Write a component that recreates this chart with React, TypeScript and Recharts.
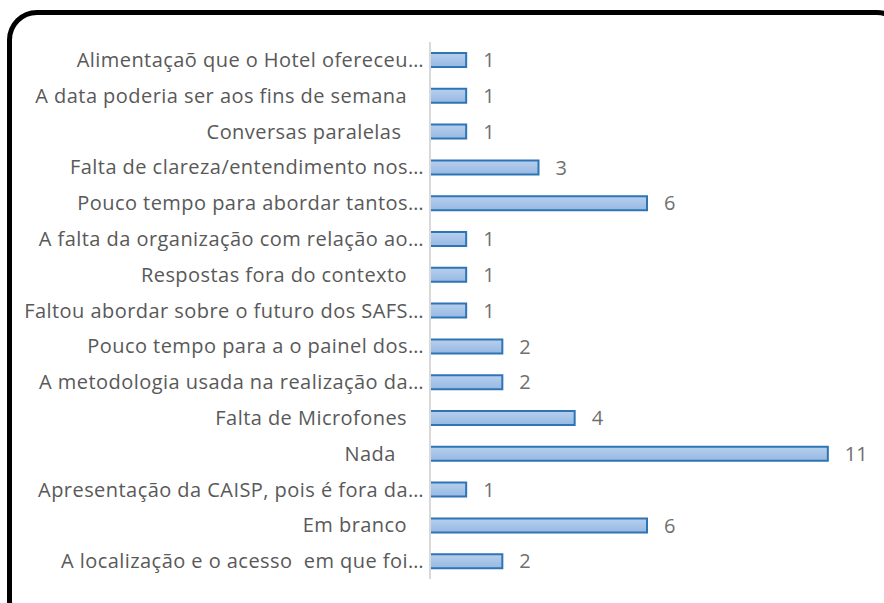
import { BarChart, Bar, XAxis, YAxis, LabelList } from "recharts";

const NB = "\u00a0";

const categories = [
  "Alimentaçaõ que o Hotel ofereceu…",
  "A data poderia ser aos fins de semana" + NB.repeat(3),
  "Conversas paralelas" + NB.repeat(4),
  "Falta de clareza/entendimento nos…",
  "Pouco tempo para abordar tantos…",
  "A falta da organização com relação ao…",
  "Respostas fora do contexto" + NB.repeat(3),
  "Faltou abordar sobre o futuro dos SAFS…",
  "Pouco tempo para a o painel dos…",
  "A metodologia usada na realização da…",
  "Falta de Microfones" + NB.repeat(3),
  "Nada" + NB.repeat(5),
  "Apresentação da CAISP, pois é fora da…",
  "Em branco" + NB.repeat(3),
  "A localização e o acesso" + NB + " em que foi…",
];

const counts = [1, 1, 1, 3, 6, 1, 1, 1, 2, 2, 4, 11, 1, 6, 2];

const data = categories.map((name, i) => ({ name, value: counts[i] }));

const TEXT = "#595959";
const FONT = "Open Sans";

export default function App() {
  return (
    <div
      style={{
        position: "absolute",
        left: 0,
        top: 0,
        width: 884,
        height: 603,
        overflow: "hidden",
        background: "#fff",
      }}
    >
      {/* rounded frame, cut off on the right and bottom like the source image */}
      <div
        style={{
          position: "absolute",
          left: 7,
          top: 10,
          width: 900,
          height: 620,
          border: "5px solid #000",
          borderRadius: 30,
          boxSizing: "border-box",
        }}
      />
      <div style={{ position: "absolute", left: 0, top: 0 }}>
        <BarChart
          width={884}
          height={603}
          data={data}
          layout="vertical"
          margin={{ top: 42, right: 20, bottom: 24, left: 0 }}
        >
          <defs>
            <linearGradient id="barFill" x1="0" y1="0" x2="0" y2="1">
              <stop offset="0%" stopColor="#b7cfed" />
              <stop offset="100%" stopColor="#97b9e3" />
            </linearGradient>
          </defs>
          <XAxis type="number" domain={[0, 12]} hide />
          <YAxis
            type="category"
            dataKey="name"
            width={430}
            tickLine={false}
            tickSize={0}
            tickMargin={6}
            interval={0}
            axisLine={{ stroke: "#d9d9d9", strokeWidth: 2 }}
            tick={{ fill: TEXT, fontSize: 20, fontFamily: FONT, letterSpacing: 0.45 }}
          />
          <Bar
            dataKey="value"
            barSize={14}
            fill="url(#barFill)"
            stroke="#2e75b6"
            strokeWidth={2}
            isAnimationActive={false}
          >
            <LabelList
              dataKey="value"
              position="right"
              offset={17}
              fill="#6f6f6f"
              fontSize={20}
              fontFamily={FONT}
            />
          </Bar>
        </BarChart>
      </div>
    </div>
  );
}
